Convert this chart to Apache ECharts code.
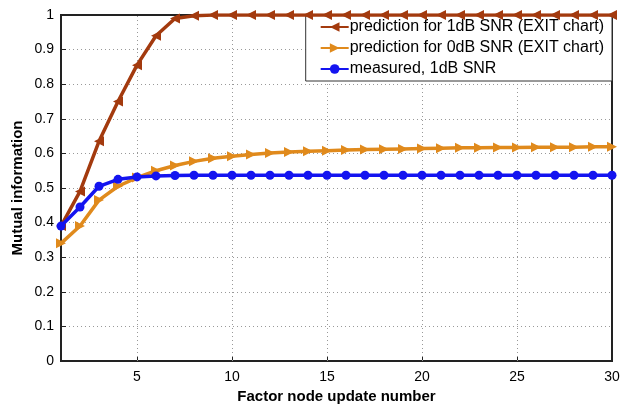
<!DOCTYPE html>
<html>
<head>
<meta charset="utf-8">
<script src="https://cdn.jsdelivr.net/npm/echarts@6/dist/echarts.min.js"></script>
<style>
  html, body { margin: 0; padding: 0; background: #fff; }
  #chart { width: 627px; height: 407px; }
</style>
</head>
<body>
<div id="chart"></div>
<script>
// factor node update numbers 1..30
const iterations = [1, 2, 3, 4, 5, 6, 7, 8, 9, 10, 11, 12, 13, 14, 15, 16, 17, 18, 19, 20, 21, 22, 23, 24, 25, 26, 27, 28, 29, 30];

const pred1dB = [0.39, 0.49, 0.635, 0.75, 0.855, 0.94, 0.99, 0.998, 1, 1, 1, 1, 1, 1, 1, 1, 1, 1, 1, 1, 1, 1, 1, 1, 1, 1, 1, 1, 1, 1];
const pred0dB = [0.34, 0.39, 0.465, 0.505, 0.53, 0.55, 0.565, 0.577, 0.586, 0.592, 0.597, 0.601, 0.604, 0.606, 0.608, 0.61, 0.611, 0.612, 0.613, 0.614, 0.615, 0.616, 0.616, 0.617, 0.617, 0.618, 0.618, 0.618, 0.619, 0.619];
const measured1dB = [0.39, 0.445, 0.505, 0.525, 0.532, 0.535, 0.536, 0.537, 0.537, 0.537, 0.537, 0.537, 0.537, 0.537, 0.537, 0.537, 0.537, 0.537, 0.537, 0.537, 0.537, 0.537, 0.537, 0.537, 0.537, 0.537, 0.537, 0.537, 0.537, 0.537];

const xTicks = [5, 10, 15, 20, 25, 30];

const pairs = (ys) => iterations.map((x, i) => [x, ys[i]]);

const font = 'Liberation Sans, Arial, sans-serif';
const dotted = { type: [1, 3], color: '#999', width: 1 };

const chart = echarts.init(document.getElementById('chart'));
chart.setOption({
  animation: false,
  textStyle: { fontFamily: font },
  grid: {
    left: 61, right: 15, top: 15, bottom: 46,
    outerBoundsMode: 'none',
    containLabel: false,
    show: true, borderColor: '#222', borderWidth: 2
  },
  legend: {
    orient: 'vertical',
    right: 15, top: 15,
    backgroundColor: '#fff',
    borderColor: '#333',
    borderWidth: 1,
    padding: [4, 8, 4, 14],
    itemGap: 5,
    itemWidth: 28,
    itemHeight: 12,
    textStyle: { fontSize: 16, color: '#000', fontFamily: font, padding: [0, 0, 0, -4] },
    data: ['prediction for 1dB SNR (EXIT chart)', 'prediction for 0dB SNR (EXIT chart)', 'measured, 1dB SNR']
  },
  xAxis: {
    type: 'value',
    min: 1, max: 30,
    name: 'Factor node update number',
    nameLocation: 'middle',
    nameGap: 27,
    nameTextStyle: { fontSize: 15, fontWeight: 'bold', color: '#000', fontFamily: font },
    axisLine: { lineStyle: { color: '#222', width: 2 } },
    axisTick: { inside: true, length: 5, customValues: xTicks, lineStyle: { color: '#222' } },
    axisLabel: { fontSize: 14, color: '#000', customValues: xTicks, margin: 9 },
    splitLine: { show: false }
  },
  yAxis: {
    type: 'value',
    min: 0, max: 1, interval: 0.1,
    name: 'Mutual information',
    nameLocation: 'middle',
    nameMoveOverlap: false,
    nameGap: 36,
    nameTextStyle: { fontSize: 15, fontWeight: 'bold', color: '#000', fontFamily: font },
    axisLine: { show: true, lineStyle: { color: '#222', width: 2 } },
    axisTick: { show: true, inside: true, length: 5, lineStyle: { color: '#222' } },
    axisLabel: { fontSize: 14, color: '#000', margin: 7 },
    splitLine: { show: true, showMinLine: false, showMaxLine: false, lineStyle: dotted }
  },
  series: [
    {
      name: 'prediction for 1dB SNR (EXIT chart)',
      type: 'line',
      data: pairs(pred1dB),
      color: '#a33a0e',
      symbol: 'triangle', symbolRotate: 90, symbolSize: 10,
      lineStyle: { width: 3.5 },
      z: 4,
      // vertical dotted grid lines at the x tick positions
      markLine: {
        silent: true,
        symbol: 'none',
        label: { show: false },
        lineStyle: dotted,
        z: 1,
        data: xTicks.slice(0, -1).map(v => ({ xAxis: v }))
      }
    },
    {
      name: 'prediction for 0dB SNR (EXIT chart)',
      type: 'line',
      data: pairs(pred0dB),
      color: '#e08a1c',
      symbol: 'triangle', symbolRotate: -90, symbolSize: 10,
      lineStyle: { width: 3.5 },
      z: 3
    },
    {
      name: 'measured, 1dB SNR',
      type: 'line',
      data: pairs(measured1dB),
      color: '#1414f0',
      symbol: 'circle', symbolSize: 9,
      lineStyle: { width: 3.5 },
      z: 5
    }
  ]
});
</script>
</body>
</html>
